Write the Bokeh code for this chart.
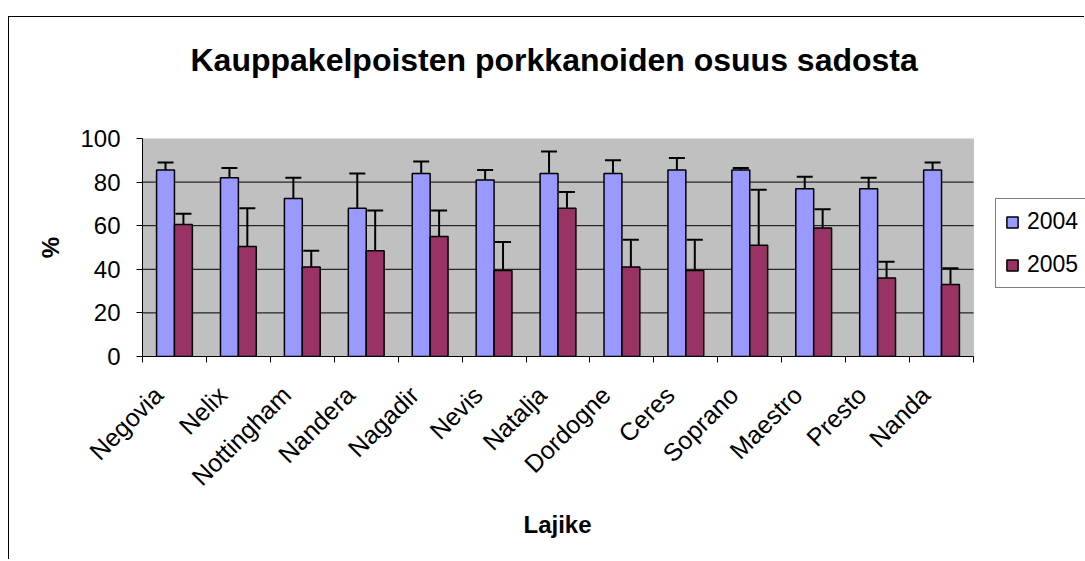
import math
from bokeh.plotting import figure
from bokeh.models import (ColumnDataSource, Range1d, FixedTicker, Whisker, TeeHead,
                          Legend, LegendItem, Title, BoxAnnotation)
from bokeh.embed import file_html
from bokeh.resources import INLINE

# ---- data ----
varieties = ["Negovia", "Nelix", "Nottingham", "Nandera", "Nagadir", "Nevis", "Natalja",
             "Dordogne", "Ceres", "Soprano", "Maestro", "Presto", "Nanda"]
v2004 = [85.5, 82, 72.5, 68, 84, 81, 84, 84, 85.5, 85.5, 77, 77, 85.5]
e2004 = [3.5, 4.5, 9.5, 16, 5.5, 4.5, 10, 6, 5.5, 1, 5.5, 5, 3.5]
v2005 = [60.5, 50.5, 41, 48.5, 55, 39.5, 68, 41, 39.5, 51, 59, 36, 33]
e2005 = [5, 17.5, 7.5, 18.5, 12, 13, 7.5, 12.5, 14, 25.5, 8.5, 7.5, 7.5]
series = ["2004", "2005"]
y_ticks = [0, 20, 40, 60, 80, 100]
title_text = "Kauppakelpoisten porkkanoiden osuus sadosta"
x_label = "Lajike"
y_label = "%"

FONT = "Liberation Sans"
C2004 = "#9999FF"
C2005 = "#993366"

n = len(varieties)
idx = list(range(n))
bw = 0.28
OFF = 0.25          # category centres sit OFF to the right of their (rotated) label anchors
centres = [i + OFF for i in idx]

src04 = ColumnDataSource(dict(x=[c - bw / 2 for c in centres], top=v2004,
                              upper=[a + b for a, b in zip(v2004, e2004)]))
src05 = ColumnDataSource(dict(x=[c + bw / 2 for c in centres], top=v2005,
                              upper=[a + b for a, b in zip(v2005, e2005)]))

# layout (pixels)
W, H = 1076, 543
LEFT, TOP, BOTTOM = 133, 121, 204
PLOT_W = 831                      # width of the grey plot area
FRAME_W = W - LEFT                # frame runs to the canvas edge (legend lives there)
x_lo = -0.5 + OFF
x_hi = n - 0.5 + OFF
x_end = x_lo + n * FRAME_W / PLOT_W

p = figure(width=W, height=H, output_backend="svg", toolbar_location=None,
           title=title_text,
           x_range=Range1d(x_lo, x_end), y_range=Range1d(0, 100),
           min_border_left=LEFT, min_border_right=0,
           min_border_top=TOP, min_border_bottom=BOTTOM)
p.margin = (16, 0, 0, 8)
p.styles = {"border-left": "1px solid black", "border-top": "1px solid black"}

p.background_fill_color = "white"
p.border_fill_color = "white"
p.outline_line_color = None

# grey plot area spanning the categories only
p.add_layout(BoxAnnotation(left=x_lo, right=x_hi, bottom=0, top=100,
                           fill_color="#C0C0C0", fill_alpha=1,
                           line_color="#808080", line_width=1, level="underlay"))

# title
p.title.align = "left"
p.title.offset = 48
p.title.vertical_align = "bottom"
p.title.text_font = FONT
p.title.text_font_size = "32px"
p.title.text_font_style = "bold"
p.title.text_color = "black"
p.title.standoff = 0
p.add_layout(Title(text=" ", text_font_size="12px", standoff=45), "above")

# horizontal grid lines across the plot area only
grid_vals = y_ticks[1:-1]
p.segment(x0=[x_lo] * len(grid_vals), x1=[x_hi] * len(grid_vals),
          y0=grid_vals, y1=grid_vals, line_color="black", line_width=1)

# bars
r04 = p.vbar(x="x", top="top", width=bw, bottom=0, source=src04,
             fill_color=C2004, line_color="black", line_width=1.5)
r05 = p.vbar(x="x", top="top", width=bw, bottom=0, source=src05,
             fill_color=C2005, line_color="black", line_width=1.5)

for s in (src04, src05):
    w = Whisker(base="x", upper="upper", lower="top", source=s, dimension="height",
                line_color="black", line_width=2,
                upper_head=TeeHead(size=16, line_color="black", line_width=2),
                lower_head=None)
    p.add_layout(w)

p.xgrid.visible = False
p.ygrid.visible = False

# y axis
ya = p.yaxis[0]
ya.ticker = FixedTicker(ticks=y_ticks)
ya.axis_line_color = "black"
ya.major_tick_line_color = "black"
ya.major_tick_out = 6
ya.major_tick_in = 0
ya.minor_tick_line_color = None
ya.major_label_text_font = FONT
ya.major_label_text_font_size = "24px"
ya.major_label_text_color = "black"
ya.major_label_standoff = 16
ya.axis_label = y_label
ya.axis_label_text_font = FONT
ya.axis_label_text_font_size = "24px"
ya.axis_label_text_font_style = "bold"
ya.axis_label_text_color = "black"
ya.axis_label_standoff = 13

# x axis (labels at integer anchors, tick marks at category boundaries)
xa = p.xaxis[0]
xa.bounds = (x_lo, x_hi)
xa.ticker = FixedTicker(ticks=idx, minor_ticks=[i - 0.5 + OFF for i in range(n + 1)])
xa.major_label_overrides = {i: name for i, name in zip(idx, varieties)}
xa.axis_line_color = "black"
xa.major_tick_out = 0
xa.major_tick_in = 0
xa.major_tick_line_color = None
xa.minor_tick_line_color = "black"
xa.minor_tick_out = 6
xa.minor_tick_in = 0
xa.major_label_orientation = math.pi / 4
xa.major_label_text_font = FONT
xa.major_label_text_font_size = "25px"
xa.major_label_text_color = "black"
xa.major_label_standoff = 28

# x-axis title, centred under the grey plot area
p.add_layout(Title(text=x_label, align="left", offset=381, vertical_align="top",
                   text_font=FONT, text_font_size="24px", text_font_style="bold",
                   text_color="black", standoff=14), "below")

# legend to the right of the grey area
legend = Legend(items=[LegendItem(label=series[0], renderers=[r04]),
                       LegendItem(label=series[1], renderers=[r05])],
                location=(PLOT_W + 22, 68), orientation="vertical",
                border_line_color="black", border_line_width=1,
                background_fill_color="white", background_fill_alpha=1,
                label_text_font=FONT, label_text_font_size="23px",
                label_text_color="black",
                glyph_width=14, glyph_height=14, label_height=26,
                spacing=16, padding=9, margin=0, label_standoff=8)
p.add_layout(legend, "center")

open("out.html", "w").write(file_html(p, INLINE))
